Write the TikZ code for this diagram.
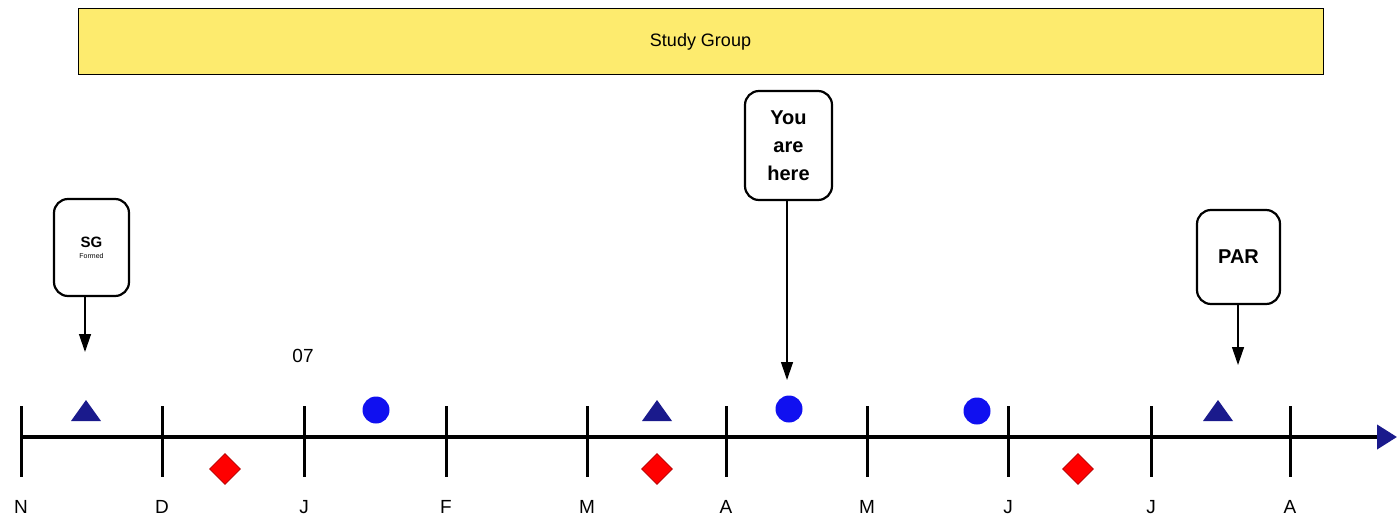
\documentclass[tikz,border=0pt]{standalone}
\usepackage{fontspec}
\setmainfont{Liberation Sans}
\usetikzlibrary{shapes.geometric,arrows.meta}
\definecolor{barfill}{HTML}{FDEB6E}
\definecolor{navytri}{HTML}{1A1A8C}
\definecolor{dotblue}{HTML}{1010F0}
\tikzset{
  callout/.style={draw, line width=2.2pt, rounded corners=14pt, align=center, inner sep=0pt},
  tick/.style={line width=3pt},
  lbl/.style={font=\fontsize{19}{19}\selectfont},
  dot/.style={circle, fill=dotblue, inner sep=0pt, minimum size=27pt},
  dia/.style={diamond, fill=red, draw=red!70!black, line width=0.6pt, inner sep=0pt, minimum size=31pt},
  pointer/.style={line width=1.3pt, -{Triangle[length=18pt,width=12pt]}}
}
\begin{document}
\begin{tikzpicture}[x=1pt,y=-1pt]
\useasboundingbox (0,0) rectangle (1399,519);
% study group bar
\node[draw, line width=1pt, fill=barfill, minimum width=1245pt, minimum height=65pt, font=\fontsize{18}{18}\selectfont] (bar) at (700.5,41.5) {Study Group};
% axis
\coordinate (ax0) at (21,437);
\coordinate (ax1) at (1397,437);
\draw[line width=4pt, -{Triangle[length=20pt,width=24pt,fill=navytri,color=navytri]}] (ax0) -- (ax1);
% ticks and labels
\foreach \x/\l/\n in {21/N/n,162/D/d,304/J/j1,446/F/f,587/M/m1,726/A/a1,867/M/m2,1008/J/j2,1151/J/j3,1290/A/a2}{
  \draw[tick] (\x,406) -- (\x,477);
  \node[lbl] (t\n) at (\x,507) {\l};
}
\node[lbl] (yr) at (303,356) {07};
% markers
\foreach \x/\n in {86/tr1,657/tr2,1218/tr3}{
  \coordinate (\n) at (\x,411);
  \fill[navytri] (\n) ++(-15,10) -- ++(30,0) -- ++(-15,-21) -- cycle;
}
\node[dot] (c1) at (376,410) {};
\node[dot] (c2) at (789,409) {};
\node[dot] (c3) at (977,411) {};
\node[dia] (d1) at (225,469) {};
\node[dia] (d2) at (657,469) {};
\node[dia] (d3) at (1078,469) {};
% callouts
\node[callout, minimum width=75pt, minimum height=97pt] (sg) at (91.5,247.5) {\fontsize{15}{17}\selectfont\bfseries SG\\[-1pt]\fontsize{7}{8}\selectfont Formed};
\node[callout, minimum width=87pt, minimum height=109pt, font=\fontsize{20}{28}\selectfont\bfseries] (you) at (788.5,145.5) {You\\are\\here};
\node[callout, minimum width=83pt, minimum height=94pt, font=\fontsize{20}{20}\selectfont\bfseries] (par) at (1238.5,257) {PAR};
\coordinate (sgend) at (85,352);
\coordinate (youend) at (787,380);
\coordinate (parend) at (1238,365);
\draw[pointer] (sg.south -| sgend) -- (sgend);
\draw[pointer] (you.south -| youend) -- (youend);
\draw[pointer] (par.south -| parend) -- (parend);
\end{tikzpicture}
\end{document}
